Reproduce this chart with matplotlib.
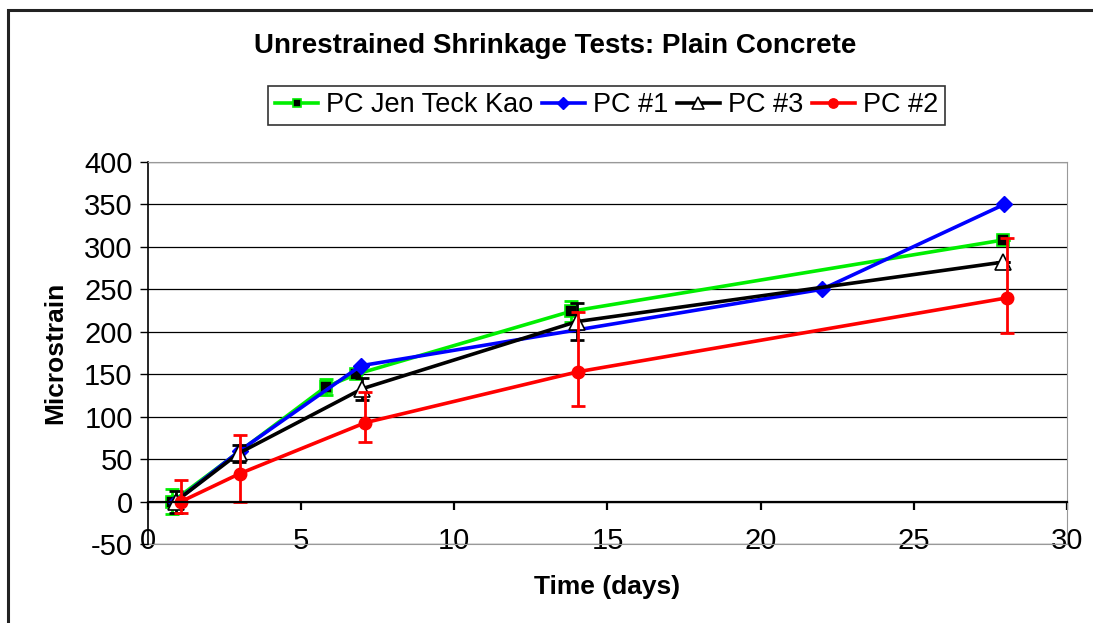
import matplotlib
matplotlib.use("Agg")
import matplotlib.pyplot as plt
from matplotlib.patches import Rectangle

plt.rcParams['font.family'] = ['Liberation Sans', 'DejaVu Sans']
plt.rcParams['axes.unicode_minus'] = False

# data
kao_x = [0.8, 5.8, 6.8, 13.8, 27.9]
kao_y = [0, 135, 150, 224, 308]
kao_err = [15, 9, 0, 12, 0]

pc1_x = [0.9, 3.0, 6.95, 22.0, 27.95]
pc1_y = [0, 60, 160, 250, 350]

pc3_x = [0.9, 2.97, 7.0, 14.0, 27.9]
pc3_y = [0, 57, 133, 212, 282]
pc3_err = [13, 10, 13, 22, 0]

pc2_x = [1.08, 3.0, 7.1, 14.05, 28.05]
pc2_y = [0, 33, 93, 153, 240]
pc2_err_lo = [14, 34, 23, 41, 41]
pc2_err_hi = [25, 45, 36, 70, 70]

xticks = [0, 5, 10, 15, 20, 25, 30]
yticks = [-50, 0, 50, 100, 150, 200, 250, 300, 350, 400]

fig = plt.figure(figsize=(10.93, 6.23), dpi=100)
ax = fig.add_axes([0.1354, 0.1268, 0.8408, 0.6132])

# outer chart border (only left and top visible)
fig.patches.append(Rectangle((8 / 1093, -0.1), 1.2, 1.1 - 10 / 623, transform=fig.transFigure,
                             fill=False, edgecolor='#222222', lw=2.2, clip_on=False))

ax.errorbar(kao_x, kao_y, yerr=kao_err, fmt='none', ecolor='#00ee00', elinewidth=2, capsize=5, capthick=2)
l1, = ax.plot(kao_x, kao_y, color='#00ee00', lw=2.6, marker='s', ms=8,
              mfc='black', mec='#00ee00', mew=1.2)

l2, = ax.plot(pc1_x, pc1_y, color='#0000ff', lw=2.6, marker='D', ms=8, mfc='#0000ff', mec='#0000ff')

ax.errorbar(pc3_x, pc3_y, yerr=pc3_err, fmt='none', ecolor='black', elinewidth=2, capsize=5, capthick=2)
l3, = ax.plot(pc3_x, pc3_y, color='black', lw=2.6, marker='^', ms=11, mfc='white', mec='black', mew=1.2)

ax.errorbar(pc2_x, pc2_y, yerr=[pc2_err_lo, pc2_err_hi], fmt='none', ecolor='#ff0000',
            elinewidth=2, capsize=5, capthick=2)
l4, = ax.plot(pc2_x, pc2_y, color='#ff0000', lw=2.6, marker='o', ms=9, mfc='#ff0000', mec='#ff0000')

ax.set_xlim(0, 30)
ax.set_ylim(-50, 400)
ax.set_yticks(yticks)
ax.set_xticks(xticks)
ax.yaxis.grid(True, color='black', lw=0.9)
ax.set_axisbelow(True)

# x axis line at zero, labels at the bottom edge
ax.spines['bottom'].set_position(('data', 0))
ax.spines['bottom'].set_linewidth(1.6)
ax.spines['left'].set_linewidth(1.2)
for s in ['top', 'right']:
    ax.spines[s].set_color('#999999')
ax.tick_params(axis='x', direction='out', length=6, width=1.6, labelbottom=False)
ax.tick_params(axis='y', direction='out', length=6, width=1, labelsize=21, pad=5)

sec = ax.secondary_xaxis(0.0)
sec.set_xticks(xticks)
sec.tick_params(length=0, labelsize=21, pad=-12)
sec.spines['bottom'].set_color('#999999')

ax.set_ylabel('Microstrain', fontsize=19, fontweight='bold', labelpad=12)
sec.set_xlabel('Time (days)', fontsize=19, fontweight='bold', labelpad=14)

fig.text(0.508, 0.926, 'Unrestrained Shrinkage Tests: Plain Concrete', ha='center', va='center',
         fontsize=20, fontweight='bold')

leg = fig.legend([l1, l2, l3, l4], ['PC Jen Teck Kao', 'PC #1', 'PC #3', 'PC #2'],
                 loc='center', bbox_to_anchor=(0.555, 0.8307), ncol=4, fontsize=19.5,
                 frameon=True, fancybox=False, edgecolor='black', markerscale=0.75,
                 handlelength=1.6, handletextpad=0.3, columnspacing=0.3, borderpad=0.25)
leg.get_frame().set_linewidth(1.2)

fig.savefig('out.png', dpi=100)
